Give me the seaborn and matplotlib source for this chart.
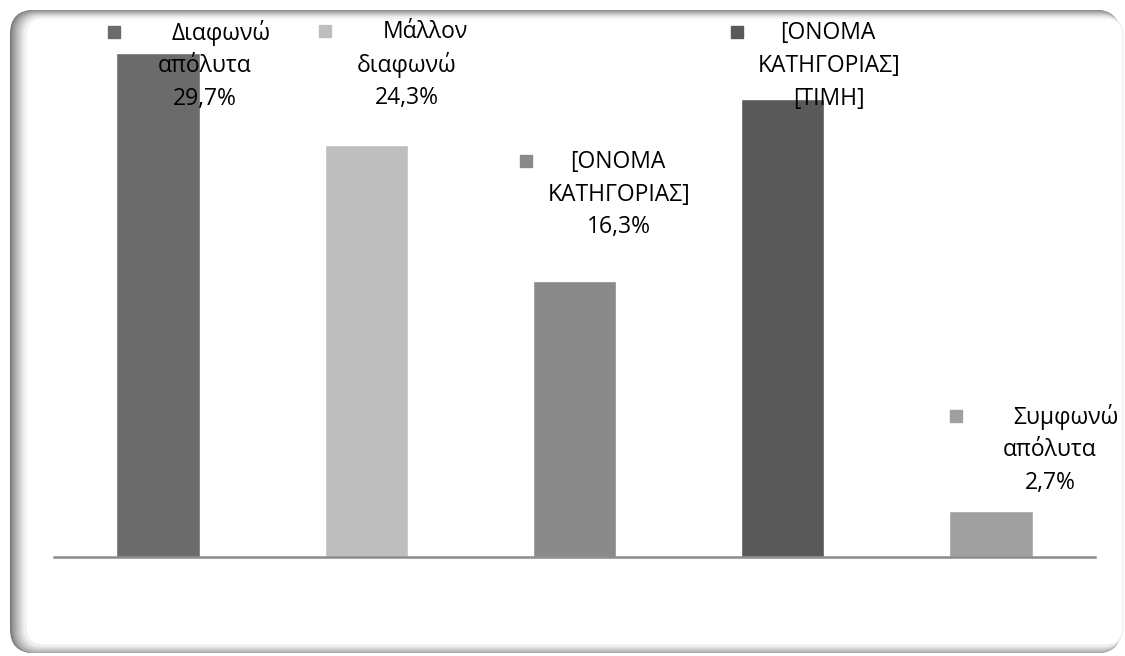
import matplotlib
matplotlib.use("Agg")
import matplotlib.pyplot as plt
from matplotlib.patches import FancyBboxPatch
from matplotlib.transforms import IdentityTransform
import numpy as np
import pandas as pd
import seaborn as sns

# --- data -------------------------------------------------------------
bar_ids = ["c1", "c2", "c3", "c4", "c5"]
label_names = ["Διαφωνώ\nαπόλυτα", "Μάλλον\nδιαφωνώ", "[ΟΝΟΜΑ\nΚΑΤΗΓΟΡΙΑΣ]",
               "[ΟΝΟΜΑ\nΚΑΤΗΓΟΡΙΑΣ]", "Συμφωνώ\nαπόλυτα"]
values = [29.7, 24.3, 16.3, 27.0, 2.7]
value_shown = [True, True, True, False, True]
value_placeholder = "[ΤΙΜΗ]"
bar_colors = ["#6b6b6b", "#bebebe", "#8a8a8a", "#595959", "#a0a0a0"]

# --- label layout (data coordinates): block centre x, first-line y,
#     legend-key x, left edge of the first text line
label_layout = [
    (0.225, 30.9, -0.212, 0.067),
    (1.196, 30.95, 0.802, 1.080),
    (2.214, 23.3, 1.767, 1.978),
    (3.222, 30.9, 2.780, 2.987),
    (4.284, 8.25, 3.832, 4.106),
]
line_step = 1.93

sns.set_style("white")
plt.rcParams["font.family"] = ["Open Sans", "DejaVu Sans"]

W, H = 1125, 656
fig = plt.figure(figsize=(W / 100, H / 100), dpi=100)
fig.patch.set_facecolor("white")


def ramp(t, start):
    return float(np.clip((t - start) / (1 - start), 0, 1))


# rounded frame with a soft inner shadow (strongest on the left,
# almost nothing on the right)
K = 20
for k in range(K):
    t = k / (K - 1)
    left = 10 + 16 * t
    right = 1119 + 4 * t
    top = 10 + 8 * ramp(t, 0.1)
    bottom = 653 - 8 * ramp(t, 0.3)
    g = 0.46 + 0.54 * t ** 0.8
    if k == K - 1:
        g = 1.0
    r = 24 - 6 * t
    patch = FancyBboxPatch((left, H - bottom), right - left, bottom - top,
                           boxstyle=f"round,pad=0,rounding_size={r}",
                           transform=IdentityTransform(),
                           facecolor=(g, g, g),
                           edgecolor=(0.93, 0.93, 0.93) if k == K - 1 else "none",
                           linewidth=0.8,
                           zorder=-10 + k * 0.01)
    fig.add_artist(patch)

ax = fig.add_axes([54 / W, 1 - 557 / H, 1041 / W, (557 - 14.5) / H])
ax.set_facecolor("none")

df = pd.DataFrame({"id": bar_ids, "value": values})
sns.barplot(data=df, x="id", y="value", hue="id", palette=bar_colors,
            saturation=1, width=0.4, legend=False, ax=ax, zorder=2)

ax.set_xlim(-0.5, 4.5)
ax.set_ylim(0, 32)
for s in ("top", "left", "right"):
    ax.spines[s].set_visible(False)
ax.spines["bottom"].set_color("#8c8c8c")
ax.spines["bottom"].set_linewidth(1.8)
ax.set_xticks([])
ax.set_yticks([])
ax.set_xlabel("")
ax.set_ylabel("")

fs = 16.5
for i, (name, v, shown, col) in enumerate(zip(label_names, values, value_shown, bar_colors)):
    cx, y0, mx, lx = label_layout[i]
    first, second = name.split("\n")
    value_txt = (f"{v:.1f}".replace(".", ",") + "%") if shown else value_placeholder
    ax.plot([mx], [y0 + 0.05], marker="s", ms=8.6, color=col, linestyle="none",
            zorder=4, clip_on=False)
    ax.text(lx, y0, first, ha="left", va="center", fontsize=fs, color="black",
            zorder=5, clip_on=False)
    ax.text(cx, y0 - line_step, second, ha="center", va="center", fontsize=fs,
            color="black", zorder=5, clip_on=False)
    ax.text(cx, y0 - 2 * line_step, value_txt, ha="center", va="center",
            fontsize=fs, color="black", zorder=5, clip_on=False)

fig.savefig("out.png", dpi=100, facecolor="white")
